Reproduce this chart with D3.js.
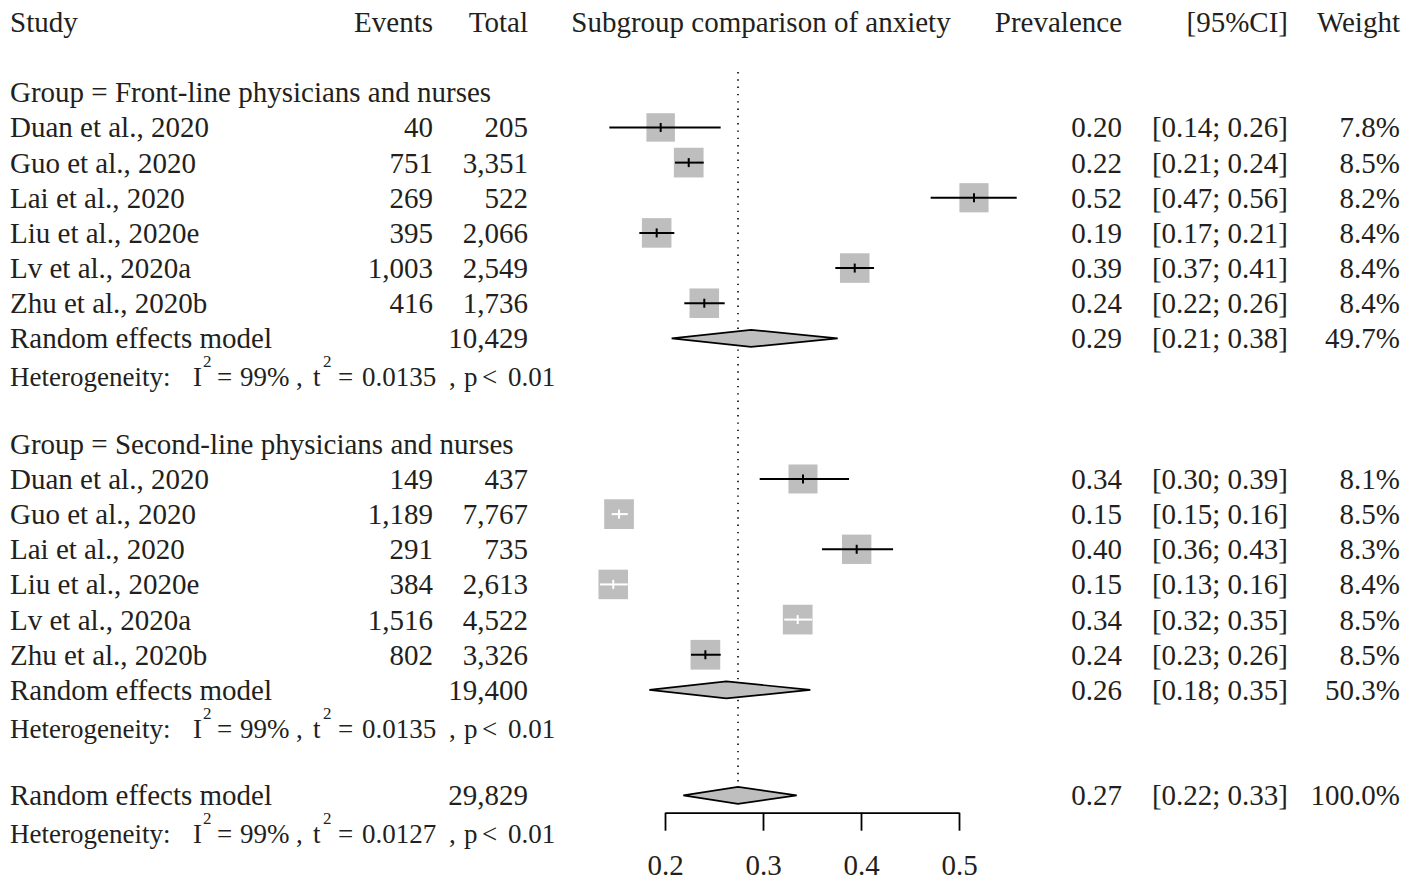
<!DOCTYPE html>
<html>
<head>
<meta charset="utf-8">
<script src="https://cdn.jsdelivr.net/npm/d3@7"></script>
<style>
  body { margin: 0; background: #fff; }
  svg text { font-family: "Liberation Serif", "Times New Roman", serif; fill: #231f20; white-space: pre; }
</style>
</head>
<body>
<svg id="chart" width="1421" height="883"></svg>
<script>
// ---- data ----
const groupNames = ["Front-line physicians and nurses", "Second-line physicians and nurses"];
const studyNames = ["Duan et al., 2020", "Guo et al., 2020", "Lai et al., 2020", "Liu et al., 2020e", "Lv et al., 2020a", "Zhu et al., 2020b"];

const eventsFront = [40, 751, 269, 395, 1003, 416];
const totalFront  = [205, 3351, 522, 2066, 2549, 1736];
const prevFront   = [0.1956, 0.2242, 0.5153, 0.1915, 0.3936, 0.2401];
const lowerFront  = [0.1432, 0.2102, 0.4711, 0.1738, 0.3738, 0.2197];
const upperFront  = [0.2568, 0.2395, 0.5589, 0.2095, 0.4133, 0.2609];
const weightFront = [7.8, 8.5, 8.2, 8.4, 8.4, 8.4];

const eventsSecond = [149, 1189, 291, 384, 1516, 802];
const totalSecond  = [437, 7767, 735, 2613, 4522, 3326];
const prevSecond   = [0.3408, 0.1531, 0.3956, 0.1472, 0.3354, 0.2412];
const lowerSecond  = [0.2966, 0.1456, 0.3602, 0.1337, 0.3217, 0.2265];
const upperSecond  = [0.3878, 0.1620, 0.4327, 0.1620, 0.3502, 0.2568];
const weightSecond = [8.1, 8.5, 8.3, 8.4, 8.5, 8.5];

// pooled (random effects): front-line, second-line, overall
const pooledTotal  = [10429, 19400, 29829];
const pooledPrev   = [0.2878, 0.2626, 0.2745];
const pooledLower  = [0.2068, 0.1840, 0.2187];
const pooledUpper  = [0.3762, 0.3483, 0.3344];
const pooledWeight = [49.7, 50.3, 100.0];
const hetI2   = ["99%", "99%", "99%"];
const hetTau2 = ["0.0135", "0.0135", "0.0127"];
const hetP    = ["0.01", "0.01", "0.01"];

const axisTicks = [0.2, 0.3, 0.4, 0.5];
const headers = ["Study", "Events", "Total", "Subgroup comparison of anxiety", "Prevalence", "[95%CI]", "Weight"];

// ---- layout ----
const svg = d3.select("#chart");
const FS = 29, FS_HET = 27;
const boxGrey = "#bebebe";
const ink = "#000";

const x = d3.scaleLinear().domain([0.2, 0.5]).range([665, 959]);
const row = d3.scaleLinear().domain([0, 23]).range([22, 830.5]);

const col = { study: 10, events: 433, total: 528, prev: 1122, ci: 1288, weight: 1400 };
const fmtInt = d3.format(",");
const f2 = v => v.toFixed(2);
const ciText = (lo, hi) => `[${f2(lo)}; ${f2(hi)}]`;
const wText = w => w.toFixed(1) + "%";
const boxSide = w => 10.19 * Math.sqrt(w);

function txt(xp, baseline, s, anchor, size) {
  return svg.append("text")
    .attr("x", xp).attr("y", baseline)
    .attr("text-anchor", anchor || "start")
    .style("font-size", (size || FS) + "px")
    .text(s);
}

// header row
const hy = row(0) + 10;
txt(col.study, hy, headers[0]);
txt(col.events, hy, headers[1], "end");
txt(col.total, hy, headers[2], "end");
txt(761, hy, headers[3], "middle");
txt(col.prev, hy, headers[4], "end");
txt(col.ci, hy, headers[5], "end");
txt(col.weight, hy, headers[6], "end");

// reference line at the overall estimate
svg.append("line")
  .attr("x1", x(pooledPrev[2])).attr("x2", x(pooledPrev[2]))
  .attr("y1", 72).attr("y2", row(22) - 8.5)
  .attr("stroke", ink).attr("stroke-width", 1.6)
  .attr("stroke-dasharray", "1.4,5.9");

function studyRow(r, name, ev, tot, p, lo, hi, w) {
  const cy = row(r);
  const s = boxSide(w);
  const cx = x(p);
  svg.append("rect")
    .attr("x", cx - s / 2).attr("y", cy - s / 2)
    .attr("width", s).attr("height", s)
    .attr("fill", boxGrey);
  const inside = x(lo) >= cx - s / 2 && x(hi) <= cx + s / 2;
  const lc = inside ? "#fff" : ink;
  svg.append("line")
    .attr("x1", x(lo)).attr("x2", x(hi)).attr("y1", cy).attr("y2", cy)
    .attr("stroke", lc).attr("stroke-width", 2);
  svg.append("line")
    .attr("x1", cx).attr("x2", cx).attr("y1", cy - 4.5).attr("y2", cy + 4.5)
    .attr("stroke", lc).attr("stroke-width", 2);
  const b = cy + 10;
  txt(col.study, b, name);
  txt(col.events, b, fmtInt(ev), "end");
  txt(col.total, b, fmtInt(tot), "end");
  txt(col.prev, b, f2(p), "end");
  txt(col.ci, b, ciText(lo, hi), "end");
  txt(col.weight, b, wText(w), "end");
}

function pooledRow(r, i) {
  const cy = row(r);
  const h = 8.5;
  const pts = [[x(pooledLower[i]), cy], [x(pooledPrev[i]), cy - h], [x(pooledUpper[i]), cy], [x(pooledPrev[i]), cy + h]];
  svg.append("path")
    .attr("d", d3.line()(pts) + "Z")
    .attr("fill", boxGrey).attr("stroke", ink).attr("stroke-width", 1.7)
    .attr("stroke-linejoin", "miter");
  const b = cy + 10;
  txt(col.study, b, "Random effects model");
  txt(col.total, b, fmtInt(pooledTotal[i]), "end");
  txt(col.prev, b, f2(pooledPrev[i]), "end");
  txt(col.ci, b, ciText(pooledLower[i], pooledUpper[i]), "end");
  txt(col.weight, b, wText(pooledWeight[i]), "end");
}

// heterogeneity line, set piece by piece like plotmath output
function hetRow(r, i) {
  const b = row(r) + 12.5;
  const g = svg.append("g");
  const put = (xp, s, sup) => g.append("text")
    .attr("x", xp).attr("y", sup ? b - 19 : b)
    .style("font-size", (sup ? 17 : FS_HET) + "px")
    .text(s);
  put(10, "Heterogeneity:");
  put(193, "I");
  put(203, "2", true);
  put(217, "=");
  put(240, hetI2[i]);
  put(296, ",");
  put(313, "t");
  put(323, "2", true);
  put(338, "=");
  put(362, hetTau2[i]);
  put(449, ",");
  put(464, "p");
  put(482, "<");
  put(508, hetP[i]);
}

// front-line group
txt(col.study, row(2) + 10, "Group = " + groupNames[0]);
studyNames.forEach((n, k) => studyRow(3 + k, n, eventsFront[k], totalFront[k], prevFront[k], lowerFront[k], upperFront[k], weightFront[k]));
pooledRow(9, 0);
hetRow(10, 0);

// second-line group
txt(col.study, row(12) + 10, "Group = " + groupNames[1]);
studyNames.forEach((n, k) => studyRow(13 + k, n, eventsSecond[k], totalSecond[k], prevSecond[k], lowerSecond[k], upperSecond[k], weightSecond[k]));
pooledRow(19, 1);
hetRow(20, 1);

// overall
pooledRow(22, 2);
hetRow(23, 2);

// x axis
const axisY = 812.7;
const axis = d3.axisBottom(x)
  .tickValues(axisTicks)
  .tickFormat(d3.format(".1f"))
  .tickSize(18)
  .tickSizeOuter(0)
  .tickPadding(24);
const ga = svg.append("g").attr("transform", `translate(0,${axisY})`).call(axis);
ga.selectAll("path, line").attr("stroke", ink).attr("stroke-width", 1.8);
ga.selectAll("text")
  .style("font-family", '"Liberation Serif", "Times New Roman", serif')
  .style("font-size", FS + "px")
  .attr("fill", "#231f20");
ga.attr("font-size", null).attr("font-family", null);
</script>
</body>
</html>
